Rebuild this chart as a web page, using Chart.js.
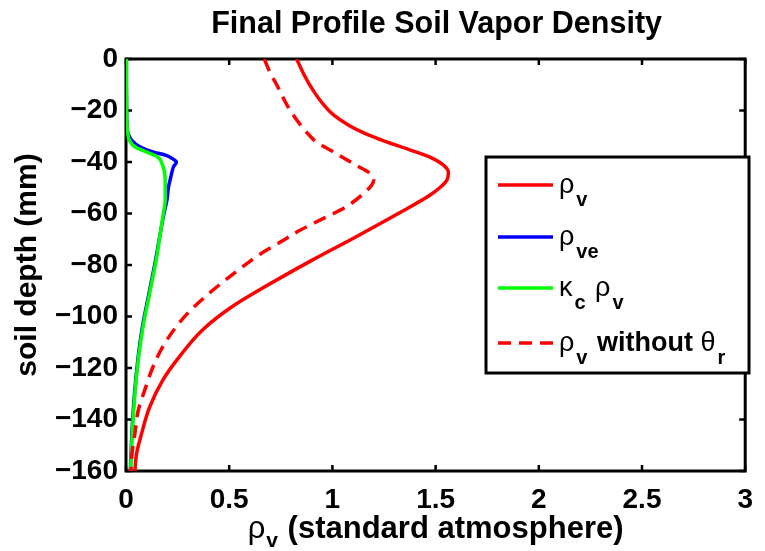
<!DOCTYPE html>
<html><head><meta charset="utf-8">
<script src="https://cdn.jsdelivr.net/npm/chart.js@4"></script>
<style>html,body{margin:0;padding:0;background:#fff;overflow:hidden}#wrap{width:765px;height:551px;position:relative}</style>
</head><body><div id="wrap"><canvas id="c" width="765" height="551"></canvas></div>
<script>
const titleText = 'Final Profile Soil Vapor Density';
const yAxisTitle = 'soil depth (mm)';
const xAxisTitle = ' (standard atmosphere)';
const xTicks = [0, 0.5, 1, 1.5, 2, 2.5, 3];
const yTicks = [0, -20, -40, -60, -80, -100, -120, -140, -160];

// rho_v (solid red)
const rhoDepth = [0,-6,-12,-18,-22,-26,-29,-32,-35,-38,-41,-44,-47,-50,-53,-60,-69.1,-78.2,-87.9,-96.4,-105.4,-115.8,-124.9,-135.3,-145.6,-153.4,-160];
const rhoValues = [0.827,0.862,0.905,0.96,1.01,1.085,1.16,1.255,1.365,1.47,1.535,1.562,1.555,1.52,1.47,1.319,1.113,0.90,0.685,0.51,0.368,0.257,0.177,0.114,0.075,0.051,0.043];

// rho_ve (blue)
const veDepth = [0,-10,-20,-26,-29,-31.5,-34.1,-36.1,-37.4,-38.7,-40,-41.9,-45.8,-49.7,-54.9,-60,-70,-78.2,-91.2,-104.2,-117.1,-130.1,-143.1,-160];
const veValues = [0.002,0.002,0.003,0.005,0.01,0.027,0.067,0.13,0.194,0.225,0.244,0.23,0.217,0.206,0.198,0.184,0.161,0.143,0.111,0.079,0.057,0.041,0.030,0.021];

// kappa_c rho_v (green)
const kcDepth = [0,-10,-20,-26,-29,-31.5,-34.1,-36.1,-37.4,-38.7,-40.6,-43.2,-47.1,-54.9,-60,-70,-78.2,-91.2,-104.2,-117.1,-130.1,-143.1,-160];
const kcValues = [0.002,0.002,0.003,0.005,0.009,0.016,0.043,0.098,0.138,0.162,0.174,0.185,0.19,0.19,0.181,0.162,0.146,0.114,0.082,0.059,0.043,0.032,0.022];

// rho_v without theta_r (dashed red)
const dashDepth = [0,-5.6,-10,-14,-18.6,-24,-28,-32.2,-36.7,-41.2,-44.5,-47.1,-49,-51.6,-57.5,-62,-66.5,-71.1,-75.6,-79.5,-86,-91.8,-98.3,-104.2,-111.9,-119.7,-128.8,-136.6,-145.6,-154.7,-160];
const dashValues = [0.67,0.70,0.73,0.755,0.785,0.83,0.87,0.922,1.018,1.113,1.184,1.20,1.19,1.16,1.065,0.954,0.843,0.748,0.653,0.585,0.479,0.391,0.304,0.241,0.177,0.13,0.09,0.059,0.043,0.027,0.024];

const SANS = "'Liberation Sans', Arial, Helvetica, sans-serif";
const pts = (d, v) => d.map((y, i) => ({x: v[i], y: y}));

// legend rows: [text, kind] where kind: 'g' greek normal, 'b' bold, 's' bold subscript
const legendRows = [
  {color:'#ff0000', dash:[], runs:[['ρ','g'],['v','s']]},
  {color:'#0000ff', dash:[], runs:[['ρ','g'],['ve','s']]},
  {color:'#00ff00', dash:[], runs:[['κ','g'],['c','s'],[' ','b'],['ρ','g'],['v','s']]},
  {color:'#ff0000', dash:[13,8], runs:[['ρ','g'],['v','s'],[' without ','b'],['θ','g'],['r','s']]}
];

function drawRuns(ctx, x, y, runs, sizes, measureOnly) {
  let cx = x;
  for (const [t, k] of runs) {
    let font, dy = 0, pre = 0, post = 0;
    if (k === 'g') font = sizes.main + 'px ' + SANS;
    else if (k === 'b') font = 'bold ' + sizes.main + 'px ' + SANS;
    else { font = 'bold ' + sizes.sub + 'px ' + SANS; dy = sizes.dy; pre = sizes.gap; post = sizes.gap; }
    ctx.font = font;
    cx += pre;
    if (!measureOnly) ctx.fillText(t, cx, y + dy);
    cx += ctx.measureText(t).width + post;
  }
  return cx - x;
}

const decor = {
  id: 'decor',
  beforeDatasetsDraw(chart) {
    const {ctx, chartArea: a, scales: {x, y}} = chart;
    ctx.save();
    ctx.strokeStyle = '#000';
    ctx.lineWidth = 3;
    ctx.strokeRect(a.left, a.top, a.right - a.left, a.bottom - a.top);
    ctx.lineWidth = 2.5;
    const L = 6;
    ctx.beginPath();
    xTicks.forEach(v => { const p = x.getPixelForValue(v); ctx.moveTo(p, a.bottom); ctx.lineTo(p, a.bottom - L); ctx.moveTo(p, a.top); ctx.lineTo(p, a.top + L); });
    yTicks.forEach(v => { const p = y.getPixelForValue(v); ctx.moveTo(a.left, p); ctx.lineTo(a.left + L, p); ctx.moveTo(a.right, p); ctx.lineTo(a.right - L, p); });
    ctx.stroke();
    ctx.restore();
  },
  afterDraw(chart) {
    const {ctx, chartArea: a} = chart;
    ctx.save();
    ctx.fillStyle = '#000';
    ctx.textBaseline = 'alphabetic';
    // title
    ctx.font = 'bold 30.5px ' + SANS;
    ctx.textAlign = 'center';
    ctx.fillText(titleText, (a.left + a.right) / 2 + 1, 33);
    // y axis title
    ctx.save();
    ctx.font = 'bold 30px ' + SANS;
    ctx.translate(36, (a.top + a.bottom) / 2);
    ctx.rotate(-Math.PI / 2);
    ctx.fillText(yAxisTitle, 0, 0);
    ctx.restore();
    // x axis title with subscript
    ctx.textAlign = 'left';
    const xr = [['ρ','g'],['v','s'],[xAxisTitle,'b']];
    const xs = {main: 31, sub: 21, dy: 9, gap: 1};
    const w = drawRuns(ctx, 0, 0, xr, xs, true);
    drawRuns(ctx, (a.left + a.right) / 2 - w / 2, 538, xr, xs, false);
    // legend box
    ctx.fillStyle = '#fff';
    ctx.fillRect(486, 157, 263, 216);
    ctx.strokeStyle = '#000';
    ctx.lineWidth = 3;
    ctx.strokeRect(486, 157, 263, 216);
    const rowY = [185, 237, 288, 343];
    legendRows.forEach((r, i) => {
      ctx.strokeStyle = r.color;
      ctx.lineWidth = 3.5;
      ctx.setLineDash(r.dash);
      ctx.beginPath();
      ctx.moveTo(498, rowY[i]);
      ctx.lineTo(553, rowY[i]);
      ctx.stroke();
      ctx.setLineDash([]);
      ctx.fillStyle = '#000';
      drawRuns(ctx, 559, rowY[i] + 8, r.runs, {main: 27, sub: 20, dy: 13, gap: 2}, false);
    });
    ctx.restore();
  }
};

const fmt = v => String(v).replace('-', '\u2212');

new Chart(document.getElementById('c'), {
  type: 'line',
  data: {
    datasets: [
      {label: 'rho_v', data: pts(rhoDepth, rhoValues), borderColor: '#ff0000', order: 4},
      {label: 'rho_ve', data: pts(veDepth, veValues), borderColor: '#0000ff', order: 3},
      {label: 'kappa_c rho_v', data: pts(kcDepth, kcValues), borderColor: '#00ff00', order: 2},
      {label: 'rho_v without theta_r', data: pts(dashDepth, dashValues), borderColor: '#ff0000', borderDash: [13, 8], order: 1}
    ]
  },
  options: {
    indexAxis: 'y',
    responsive: false,
    devicePixelRatio: 1,
    animation: false,
    layout: {padding: {left: 0, right: 9, top: 59, bottom: 0}},
    elements: {
      point: {radius: 0, hoverRadius: 0},
      line: {borderWidth: 3.5, fill: false, cubicInterpolationMode: 'monotone'}
    },
    plugins: {legend: {display: false}, tooltip: {enabled: false}, title: {display: false}},
    scales: {
      x: {
        type: 'linear', position: 'bottom', min: 0, max: 3,
        afterBuildTicks: s => { s.ticks = xTicks.map(v => ({value: v})); },
        afterFit: s => { s.height = 80; },
        grid: {display: false, drawTicks: false},
        border: {display: false},
        ticks: {padding: 12, color: '#000', font: {family: SANS, size: 28, weight: 'bold'}, callback: v => fmt(v), maxRotation: 0, autoSkip: false}
      },
      y: {
        type: 'linear', position: 'left', min: -160, max: 0, reverse: false,
        afterBuildTicks: s => { s.ticks = yTicks.map(v => ({value: v})); },
        afterFit: s => { s.width = 126; },
        grid: {display: false, drawTicks: false},
        border: {display: false},
        ticks: {padding: 8, color: '#000', font: {family: SANS, size: 28, weight: 'bold'}, callback: v => fmt(v), autoSkip: false}
      }
    }
  },
  plugins: [decor]
});
</script>
</body></html>
